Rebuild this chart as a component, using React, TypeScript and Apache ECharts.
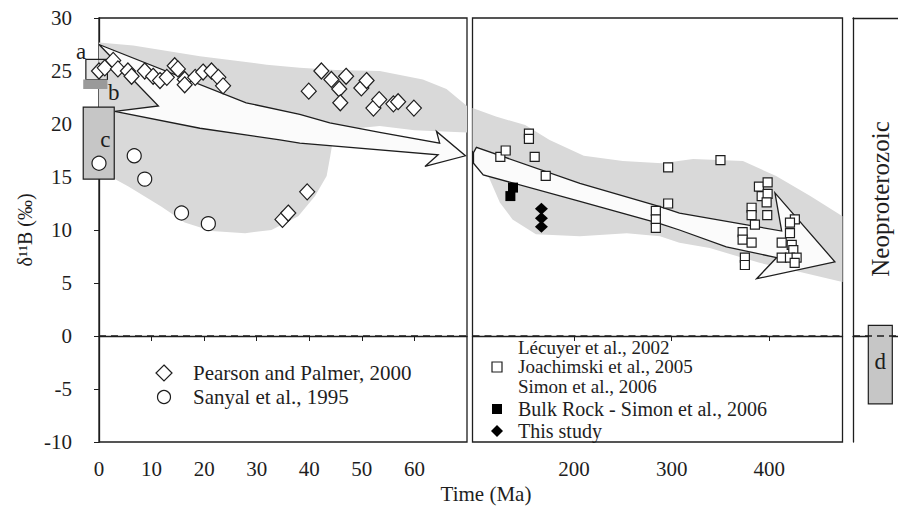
import React, { useEffect, useRef } from 'react';
import * as echarts from 'echarts';

const FONT = "'Liberation Serif', 'Times New Roman', serif";
const INK = '#1e1e1e';

// ---------- Cenozoic panel (0–70 Ma) ----------
const pearsonPalmer: number[][] = [
  [0, 25.0], [1.1, 25.3], [2.7, 26.0], [3.6, 25.2], [5.5, 25.0], [6.2, 24.5], [8.7, 25.0],
  [10.3, 24.5], [11.6, 24.1], [12.9, 24.4], [14.4, 25.5], [15.0, 25.2], [16.3, 24.2], [16.3, 23.7],
  [18.3, 24.4], [19.8, 24.9], [21.4, 25.0], [22.7, 24.4], [23.6, 23.6],
  [39.9, 23.1], [42.3, 25.0], [44.2, 24.2], [45.7, 23.3], [45.9, 22.0], [47.0, 24.5], [49.9, 23.4],
  [50.9, 24.1], [52.2, 21.5], [53.3, 22.3], [56.0, 21.9], [56.9, 22.1], [59.9, 21.5],
  [34.9, 11.0], [36.0, 11.6], [39.6, 13.6],
];
const sanyal: number[][] = [[0, 16.3], [6.7, 17.0], [8.7, 14.8], [15.7, 11.6], [20.8, 10.6]];

const cenozoicBand: number[][] = [
  [0, 27.7], [6.5, 27.4], [19.2, 26.4], [31.9, 25.6], [38.2, 25.3], [45, 25.1], [53.4, 25.0],
  [61.6, 24.2], [66.1, 23.3], [70, 21.7], [70, 19.2], [60, 19.4], [53.4, 19.8], [47.1, 19.5],
  [44.5, 18.5], [44, 17.0], [43.3, 15.1], [41.1, 13.2], [37.9, 11.3], [32.8, 10.0], [27.8, 9.7],
  [21.4, 9.9], [16.3, 10.7], [11.9, 12.2], [5.6, 14.1], [3.0, 14.8], [0, 15.0],
];
const cenozoicArrow: number[][] = [
  [0, 27.5], [28, 22.0], [38.2, 20.9], [43.9, 20.1], [53.4, 19.2], [64.8, 18.2], [64.2, 19.3],
  [69.7, 17.0], [62.0, 16.0], [64.5, 17.1], [38.2, 18.2], [34.4, 18.5], [19.2, 19.6], [3.0, 21.2],
  [11.3, 21.7],
];

// boxes: [x0, x1, yTop, yBottom]
const boxA = [-2.5, 1.6, 26.1, 24.2];
const boxB = [-3.0, 1.6, 24.2, 23.3];
const boxC = [-3.0, 2.9, 21.6, 14.8];

// ---------- Phanerozoic panel (96–475 Ma) ----------
const lecuyerEtAl: number[][] = [
  [124.5, 16.9], [130, 17.5], [153.8, 19.1], [153.8, 18.6], [159.7, 16.9], [171, 15.1],
  [283.8, 11.8], [283.8, 11.0], [283.8, 10.2], [296.4, 15.9], [296.4, 12.5], [350, 16.6],
  [389.4, 14.1], [398.3, 14.5], [392.2, 13.2], [398.3, 13.4], [397.3, 12.6], [381.9, 12.1],
  [381.9, 11.4], [397.9, 11.4], [385.3, 10.5], [372.7, 9.8], [372.7, 9.1], [381.9, 8.8],
  [375, 7.4], [375, 6.7], [426.2, 11.0], [421.2, 10.7], [421.2, 9.7], [412.7, 8.8], [423, 8.6],
  [424.6, 8.1], [412.7, 7.4], [421.2, 7.4], [428, 7.4], [426, 6.9],
];
const bulkRock: number[][] = [[137.5, 14.0], [134.8, 13.2]];
const thisStudy: number[][] = [[166.6, 12.0], [166.6, 11.1], [166.6, 10.3]];

const paleozoicBand: number[][] = [
  [96, 21.5], [120, 20.7], [150, 19.9], [175, 18.5], [210, 17.0], [250, 16.5], [290, 16.3],
  [322, 16.7], [373, 16.5], [407, 15.1], [442, 13.2], [475, 11.3], [475, 5.1], [424, 6.2],
  [390, 6.9], [339, 8.3], [308, 8.8], [288, 9.4], [254, 9.7], [206, 9.4], [161, 9.6],
  [137, 11.0], [124, 12.6], [113.5, 14.8], [100, 17.0], [96, 17.5],
];
const paleozoicArrow: number[][] = [
  [97, 17.3], [100, 17.8], [206, 14.4], [288, 12.2], [308, 11.6], [412.7, 9.9], [405.8, 13.5],
  [467.2, 7.0], [387, 5.4], [407.6, 7.4], [356, 8.4], [308, 10.0], [288, 10.6], [206, 12.7],
  [107, 15.2], [97, 16.3],
];

// ---------- Neoproterozoic panel ----------
const boxD = [15.3, 39.3, 1.0, -6.4];

// axis ticks
const yTicksMin = -10;
const yTicksMax = 30;
const cenozoicTicks = [0, 10, 20, 30, 40, 50, 60];
const paleozoicTicks = [200, 300, 400];

const BAND = '#d9d9d9';
const FS = 21;
const LEG_FS = 19;

function polygonSeries(points: number[][], gi: number, fill: string, stroke: string | null, z: number) {
  return {
    type: 'custom',
    xAxisIndex: gi,
    yAxisIndex: gi,
    z,
    silent: true,
    clip: false,
    data: [[0, 0]],
    renderItem: (_p: any, api: any) => ({
      type: 'polygon',
      shape: { points: points.map((p) => api.coord(p)) },
      style: { fill, stroke: stroke || 'none', lineWidth: stroke ? 1.3 : 0, lineJoin: 'miter' },
    }),
  };
}

function boxSeries(box: number[], gi: number, fill: string, stroke: string | null, label: string | null, labelPos: number[] | null, z: number) {
  return {
    type: 'custom',
    xAxisIndex: gi,
    yAxisIndex: gi,
    z,
    silent: true,
    clip: false,
    data: [[0, 0]],
    renderItem: (_p: any, api: any) => {
      const a = api.coord([box[0], box[2]]);
      const b = api.coord([box[1], box[3]]);
      const children: any[] = [
        {
          type: 'rect',
          shape: { x: a[0], y: a[1], width: b[0] - a[0], height: b[1] - a[1] },
          style: { fill, stroke: stroke || 'none', lineWidth: stroke ? 1.2 : 0 },
        },
      ];
      if (label && labelPos) {
        const lp = api.coord(labelPos);
        children.push({
          type: 'text',
          x: lp[0],
          y: lp[1],
          style: { text: label, font: `23px ${FONT}`, fill: INK, align: 'center', verticalAlign: 'middle' },
        });
      }
      return { type: 'group', children };
    },
  };
}

function zeroLine(gi: number, x0: number, x1: number) {
  return {
    type: 'line',
    xAxisIndex: gi,
    yAxisIndex: gi,
    z: 4,
    silent: true,
    showSymbol: false,
    symbol: 'none',
    data: [[x0, 0], [x1, 0]],
    lineStyle: { color: INK, width: 1.5, type: [7, 5] },
  };
}

const axisLabelStyle = { fontFamily: FONT, fontSize: FS, color: INK };
const frameLine = { show: true, lineStyle: { color: INK, width: 1.3 } };

const option: any = {
  animation: false,
  grid: [
    { left: 99, top: 18, width: 368, height: 424, show: true, borderColor: INK, borderWidth: 1.3 },
    { left: 472.5, top: 18, width: 370, height: 424, show: true, borderColor: INK, borderWidth: 1.3 },
    { left: 853, top: 18, width: 45, height: 424, show: false },
  ],
  xAxis: [
    {
      type: 'value', gridIndex: 0, min: 0, max: 70,
      axisLine: frameLine,
      axisTick: { show: true, length: 5, customValues: cenozoicTicks, lineStyle: { color: INK } },
      axisLabel: { ...axisLabelStyle, margin: 16, customValues: cenozoicTicks },
      splitLine: { show: false },
    },
    {
      type: 'value', gridIndex: 1, min: 96, max: 475,
      axisLine: frameLine,
      axisTick: { show: true, length: 5, customValues: paleozoicTicks, lineStyle: { color: INK } },
      axisLabel: { ...axisLabelStyle, margin: 16, customValues: paleozoicTicks },
      splitLine: { show: false },
    },
    {
      type: 'value', gridIndex: 2, min: 0, max: 45, position: 'bottom',
      axisLine: frameLine, axisTick: { show: false }, axisLabel: { show: false }, splitLine: { show: false },
    },
    {
      type: 'value', gridIndex: 2, min: 0, max: 45, position: 'top',
      axisLine: frameLine, axisTick: { show: false }, axisLabel: { show: false }, splitLine: { show: false },
    },
  ],
  yAxis: [
    {
      type: 'value', gridIndex: 0, min: yTicksMin, max: yTicksMax, interval: 5,
      name: 'δ¹¹B (‰)', nameLocation: 'middle', nameGap: 64,
      nameTextStyle: { fontFamily: FONT, fontSize: 20, color: INK },
      axisLine: frameLine,
      axisTick: { show: true, length: 5, lineStyle: { color: INK } },
      axisLabel: { ...axisLabelStyle, margin: 27 },
      splitLine: { show: false },
    },
    { type: 'value', gridIndex: 1, min: yTicksMin, max: yTicksMax, show: false, splitLine: { show: false } },
    {
      type: 'value', gridIndex: 2, min: yTicksMin, max: yTicksMax,
      axisLine: frameLine, axisTick: { show: false }, axisLabel: { show: false }, splitLine: { show: false },
    },
  ],
  series: [
    polygonSeries(cenozoicBand, 0, BAND, null, 1),
    polygonSeries(cenozoicArrow, 0, '#fbfbfb', INK, 2),
    boxSeries(boxA, 0, 'rgba(215,215,215,0.6)', INK, 'a', [-3.4, 26.8], 3),
    boxSeries(boxB, 0, '#9a9a9a', null, 'b', [2.8, 23.0], 3),
    boxSeries(boxC, 0, '#c6c6c6', INK, 'c', [1.2, 18.5], 3),
    zeroLine(0, 0, 70),
    {
      name: 'Pearson and Palmer, 2000', type: 'scatter', xAxisIndex: 0, yAxisIndex: 0, z: 5,
      symbol: 'diamond', symbolSize: [15, 16], data: pearsonPalmer, clip: false,
      itemStyle: { color: '#ffffff', borderColor: INK, borderWidth: 1.2, opacity: 1 },
    },
    {
      name: 'Sanyal et al., 1995', type: 'scatter', xAxisIndex: 0, yAxisIndex: 0, z: 5,
      symbol: 'circle', symbolSize: 14, data: sanyal, clip: false,
      itemStyle: { color: '#ffffff', borderColor: INK, borderWidth: 1.2, opacity: 1 },
    },
    polygonSeries(paleozoicBand, 1, BAND, null, 1),
    polygonSeries(paleozoicArrow, 1, '#fbfbfb', INK, 2),
    zeroLine(1, 96, 475),
    {
      name: 'Lécuyer et al., 2002', type: 'scatter', xAxisIndex: 1, yAxisIndex: 1, z: 5,
      symbol: 'rect', symbolSize: 9, data: lecuyerEtAl,
      itemStyle: { color: '#ffffff', borderColor: INK, borderWidth: 1.2, opacity: 1 },
    },
    {
      name: 'Bulk Rock - Simon et al., 2006', type: 'scatter', xAxisIndex: 1, yAxisIndex: 1, z: 5,
      symbol: 'rect', symbolSize: 10, data: bulkRock,
      itemStyle: { color: '#000000', opacity: 1 },
    },
    {
      name: 'This study', type: 'scatter', xAxisIndex: 1, yAxisIndex: 1, z: 5,
      symbol: 'diamond', symbolSize: [13, 12], data: thisStudy,
      itemStyle: { color: '#000000', opacity: 1 },
    },
    boxSeries(boxD, 2, '#c6c6c6', INK, 'd', [27.3, -2.4], 3),
    zeroLine(2, 0, 45),
  ],
  graphic: [
    // x axis title
    { type: 'text', x: 486, y: 494, style: { text: 'Time (Ma)', font: `${FS}px ${FONT}`, fill: INK, align: 'center', verticalAlign: 'middle' } },
    // Neoproterozoic
    { type: 'text', x: 880, y: 199, rotation: Math.PI / 2, style: { text: 'Neoproterozoic', font: `25px ${FONT}`, fill: INK, align: 'center', verticalAlign: 'middle' } },
    // left legend
    { type: 'polygon', shape: { points: [[164, 365], [172, 373], [164, 381], [156, 373]] }, style: { fill: '#fff', stroke: INK, lineWidth: 1.2 } },
    { type: 'text', x: 193, y: 373, style: { text: 'Pearson and Palmer, 2000', font: `${FS}px ${FONT}`, fill: INK, verticalAlign: 'middle' } },
    { type: 'circle', shape: { cx: 164, cy: 397, r: 6.5 }, style: { fill: '#fff', stroke: INK, lineWidth: 1.2 } },
    { type: 'text', x: 193, y: 397, style: { text: 'Sanyal et al., 1995', font: `${FS}px ${FONT}`, fill: INK, verticalAlign: 'middle' } },
    // middle legend
    { type: 'rect', shape: { x: 492, y: 362, width: 10, height: 10 }, style: { fill: '#fff', stroke: INK, lineWidth: 1.2 } },
    { type: 'text', x: 518, y: 347, style: { text: 'Lécuyer et al., 2002', font: `${LEG_FS}px ${FONT}`, fill: INK, verticalAlign: 'middle' } },
    { type: 'text', x: 518, y: 366.5, style: { text: 'Joachimski et al., 2005', font: `${LEG_FS}px ${FONT}`, fill: INK, verticalAlign: 'middle' } },
    { type: 'text', x: 518, y: 386, style: { text: 'Simon et al., 2006', font: `${LEG_FS}px ${FONT}`, fill: INK, verticalAlign: 'middle' } },
    { type: 'rect', shape: { x: 492, y: 404, width: 10, height: 10 }, style: { fill: '#000' } },
    { type: 'text', x: 518, y: 409, style: { text: 'Bulk Rock - Simon et al., 2006', font: `${LEG_FS + 1}px ${FONT}`, fill: INK, verticalAlign: 'middle' } },
    { type: 'polygon', shape: { points: [[497, 425], [503, 431], [497, 437], [491, 431]] }, style: { fill: '#000' } },
    { type: 'text', x: 518, y: 431, style: { text: 'This study', font: `${LEG_FS + 1}px ${FONT}`, fill: INK, verticalAlign: 'middle' } },
  ],
};

export default function App() {
  const ref = useRef<HTMLDivElement>(null);
  useEffect(() => {
    const chart = echarts.init(ref.current!, null, { renderer: 'svg' });
    chart.setOption(option);
    return () => chart.dispose();
  }, []);
  return <div ref={ref} style={{ position: 'absolute', left: 0, top: 0, width: 898, height: 506, background: '#fff' }} />;
}
